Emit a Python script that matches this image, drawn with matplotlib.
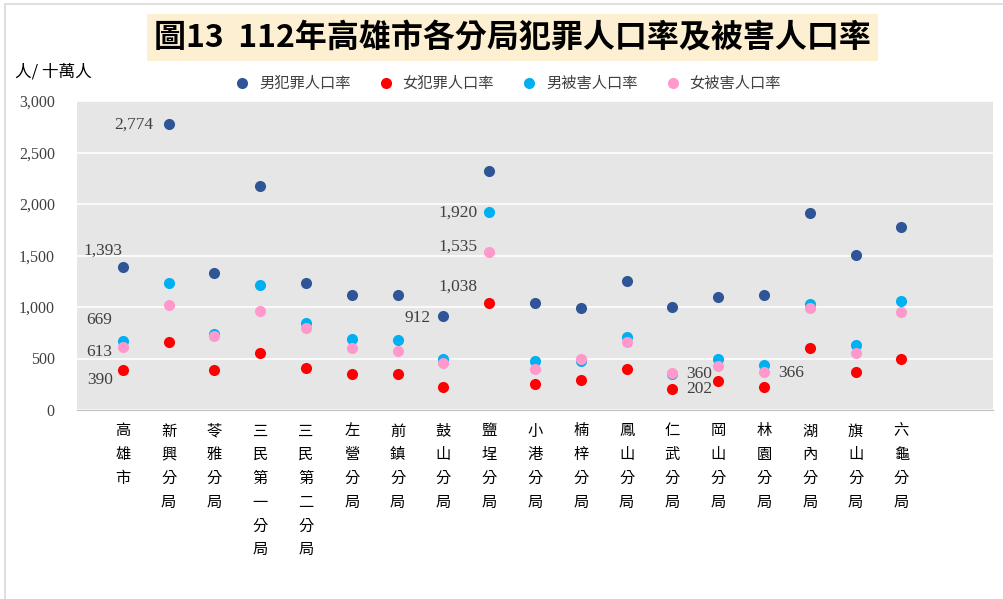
import matplotlib
matplotlib.use('Agg')
import matplotlib.pyplot as plt
from matplotlib.patches import Rectangle

plt.rcParams['font.family'] = ['Liberation Serif', 'Noto Sans CJK TC', 'DejaVu Sans']

# 分局名稱
categories = ['高雄市', '新興分局', '苓雅分局', '三民第一分局', '三民第二分局', '左營分局',
              '前鎮分局', '鼓山分局', '鹽埕分局', '小港分局', '楠梓分局', '鳳山分局',
              '仁武分局', '岡山分局', '林園分局', '湖內分局', '旗山分局', '六龜分局']

# 人/十萬人
male_offender = [1393, 2774, 1333, 2178, 1233, 1120, 1120, 912, 2317, 1042, 987, 1255,
                 997, 1100, 1116, 1909, 1502, 1777]
female_offender = [390, 663, 388, 550, 408, 346, 346, 227, 1038, 249, 288, 401,
                   202, 278, 227, 605, 369, 495]
male_victim = [669, 1236, 738, 1217, 841, 689, 680, 495, 1920, 476, 479, 712,
               350, 492, 434, 1029, 634, 1058]
female_victim = [613, 1016, 722, 958, 793, 599, 573, 460, 1535, 401, 498, 657,
                 360, 424, 366, 994, 550, 948]

series_names = ['男犯罪人口率', '女犯罪人口率', '男被害人口率', '女被害人口率']
series_values = [male_offender, female_offender, male_victim, female_victim]
colors = ['#2F5597', '#FF0000', '#00B0F0', '#FF99CC']

# 資料標籤: (系列, 分局索引, 水平對齊, 偏移像素)
labels = [
    (0, 0, 'right', (0, 16)),
    (2, 0, 'right', (-11, 21)),
    (3, 0, 'right', (-11, -5)),
    (1, 0, 'right', (-10, -10)),
    (0, 1, 'right', (-15, 0)),
    (2, 8, 'right', (-12, 0)),
    (3, 8, 'right', (-12, 5)),
    (1, 8, 'right', (-12, 16)),
    (0, 7, 'right', (-13, -2)),
    (3, 12, 'left', (14, -1)),
    (1, 12, 'left', (14, 0)),
    (3, 14, 'left', (14, -1)),
]

fig = plt.figure(figsize=(10.04, 5.99), dpi=100)
fig.patches.append(Rectangle((5 / 1004, -0.1), 1.2, 1 - 4 / 599 + 0.1, transform=fig.transFigure,
                             fill=False, edgecolor='#D9D9D9', linewidth=1.2))

ax = fig.add_axes([77 / 1004, 1 - 410 / 599, (993 - 77) / 1004, (410 - 101) / 599])
ax.set_facecolor('#E6E6E6')

x = list(range(1, len(categories) + 1))
for name, vals, c in zip(series_names, series_values, colors):
    ax.scatter(x, vals, s=64, color=c, label=name, zorder=3, linewidths=0)

for si, ci, ha, off in labels:
    v = series_values[si][ci]
    ax.annotate(f'{v:,}', (x[ci], v), xytext=off, textcoords='offset pixels',
                ha=ha, va='center', fontsize=12.5, color='#404040', zorder=4)

ax.set_xlim(0, 20)
ax.set_ylim(0, 3000)
ax.set_yticks(range(0, 3001, 500))
ax.set_yticklabels([f'{v:,}' for v in range(0, 3001, 500)], fontsize=11.5, color='#404040')
ax.set_xticks(x)
ax.set_xticklabels(['\n'.join(c) for c in categories], fontsize=11, va='top',
                   linespacing=1.52, family=['Noto Sans CJK TC'])
ax.set_xticks(range(2, 20, 2), minor=True)
ax.tick_params(axis='both', which='both', length=0)
ax.tick_params(axis='x', pad=9)
ax.tick_params(axis='y', pad=16)
ax.grid(axis='y', color='white', linewidth=1.2)
ax.grid(axis='x', which='minor', color='white', linewidth=1.2)
ax.set_axisbelow(True)
for s in ['left', 'right', 'top']:
    ax.spines[s].set_visible(False)
ax.spines['bottom'].set_color('#BFBFBF')

# 標題
fig.text(0.5105, 1 - 37.5 / 599, '圖13  112年高雄市各分局犯罪人口率及被害人口率', ha='center', va='center',
         fontsize=23, fontweight='bold', family=['Noto Sans CJK TC'],
         bbox=dict(boxstyle='square,pad=0.22', facecolor='#FDF0D2', edgecolor='none'))

fig.text(15 / 1004, 1 - 72 / 599, '人/ 十萬人', ha='left', va='center', fontsize=12,
         family=['Noto Sans CJK TC'])

fig.legend(loc='center', bbox_to_anchor=(504 / 1004, 1 - 83 / 599), ncol=4, frameon=False,
           prop={'family': 'Noto Sans CJK TC', 'size': 11}, handletextpad=0.1,
           columnspacing=1.3, labelcolor='#404040', scatterpoints=1)

plt.savefig('out.png', dpi=100)
plt.close()
